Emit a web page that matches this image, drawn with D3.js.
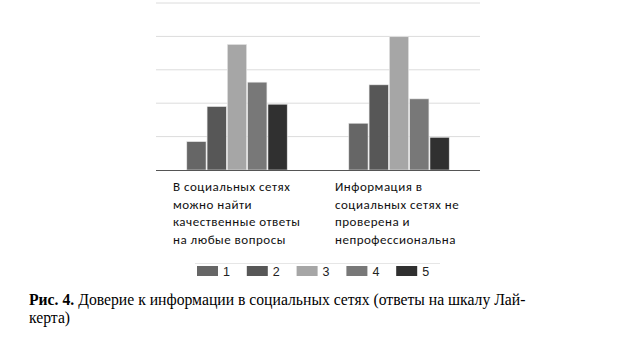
<!DOCTYPE html>
<html>
<head>
<meta charset="utf-8">
<script src="https://cdn.jsdelivr.net/npm/d3@7"></script>
<style>
  body { margin: 0; background: #fff; }
</style>
</head>
<body>
<div id="chart"></div>
<script>
// categories and answers (Likert scale 1..5)
const categories = [
  ["В социальных сетях", "можно найти", "качественные ответы", "на любые вопросы"],
  ["Информация в", "социальных сетях не", "проверена и", "непрофессиональна"]
];
const seriesNames = ["1", "2", "3", "4", "5"];
const values1 = [0.85, 1.9, 3.76, 2.63, 1.97];
const values2 = [1.4, 2.55, 3.99, 2.13, 0.98];
const gridTicks = [0, 1, 2, 3, 4, 5];
const colors = ["#666666", "#575757", "#a6a6a6", "#787878", "#303030"];

const W = 618, H = 354;
const plot = {left: 156, right: 480, top: 3, bottom: 170};

const svg = d3.select("#chart").append("svg")
  .attr("width", W).attr("height", H);

const x0 = d3.scaleBand()
  .domain(d3.range(categories.length))
  .range([plot.left, plot.right])
  .paddingInner(0).paddingOuter(0);

const x1 = d3.scaleBand()
  .domain(seriesNames)
  .range([x0.bandwidth() * 0.19, x0.bandwidth() * 0.81])
  .paddingInner(0.05);

const y = d3.scaleLinear()
  .domain([0, 5])
  .range([plot.bottom, plot.top]);

// gridlines
svg.append("g")
  .selectAll("line")
  .data(gridTicks.slice(1))
  .join("line")
    .attr("x1", plot.left).attr("x2", plot.right)
    .attr("y1", d => y(d)).attr("y2", d => y(d))
    .attr("stroke", "#dcdcdc").attr("stroke-width", 1);

const data = [values1, values2];

// bars
const groups = svg.append("g")
  .selectAll("g")
  .data(data)
  .join("g")
    .attr("transform", (d, i) => "translate(" + x0(i) + ",0)");

groups.selectAll("rect")
  .data(d => d.map((v, j) => ({key: seriesNames[j], value: v, j: j})))
  .join("rect")
    .attr("x", d => x1(d.key))
    .attr("y", d => y(d.value))
    .attr("width", x1.bandwidth())
    .attr("height", d => y(0) - y(d.value))
    .attr("fill", d => colors[d.j])
    .attr("stroke", "#e8e8e8").attr("stroke-width", 0.6);

// baseline
svg.append("line")
  .attr("x1", plot.left).attr("x2", plot.right)
  .attr("y1", y(0) + 0.5).attr("y2", y(0) + 0.5)
  .attr("stroke", "#555").attr("stroke-width", 1.2);

// category labels, one text per line
const labelX = [173, 335];
categories.forEach((lines, i) => {
  lines.forEach((ln, k) => {
    svg.append("text")
      .attr("x", labelX[i])
      .attr("y", 191 + k * 17.6)
      .style("font-family", "Carlito")
      .style("font-size", "13px")
      .style("letter-spacing", "0.5px")
      .attr("fill", "#111")
      .text(ln);
  });
});

// faint line above legend
svg.append("line")
  .attr("x1", 195).attr("x2", 440)
  .attr("y1", 263.5).attr("y2", 263.5)
  .attr("stroke", "#e6e6e6");

// legend
const legend = svg.append("g")
  .selectAll("g")
  .data(seriesNames)
  .join("g")
    .attr("transform", (d, i) => "translate(" + (197 + i * 49.8) + ",266)");

legend.append("rect")
  .attr("width", 21).attr("height", 10)
  .attr("fill", (d, i) => colors[i]);

legend.append("text")
  .attr("x", 26).attr("y", 10)
  .style("font-family", "'Liberation Sans', Arial, sans-serif")
  .style("font-size", "12.5px")
  .attr("fill", "#222")
  .text(d => d);

// caption
const capBold = svg.append("text")
  .attr("x", 29).attr("y", 305)
  .style("font-family", "'Liberation Serif'")
  .style("font-size", "15.7px")
  .style("font-weight", "bold")
  .attr("fill", "#000")
  .text("Рис. 4.");
const bw = capBold.node().getComputedTextLength();
svg.append("text")
  .attr("x", 29 + bw + 4)
  .attr("y", 305)
  .style("font-family", "'Liberation Serif'")
  .style("font-size", "15.7px")
  .attr("fill", "#000")
  .text("Доверие к информации в социальных сетях (ответы на шкалу Лай-");
svg.append("text")
  .attr("x", 29).attr("y", 323)
  .style("font-family", "'Liberation Serif'")
  .style("font-size", "15.7px")
  .attr("fill", "#000")
  .text("керта)");
</script>
</body>
</html>
